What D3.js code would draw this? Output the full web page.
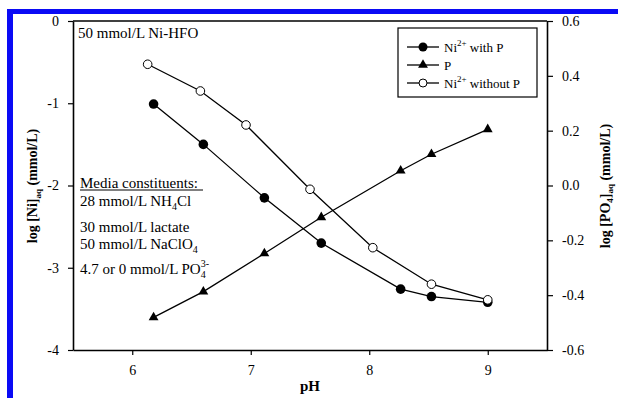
<!DOCTYPE html>
<html><head><meta charset="utf-8">
<script src="https://cdn.jsdelivr.net/npm/d3@7"></script>
<style>body{margin:0;background:#fff}svg{display:block}text{font-family:"Liberation Serif","Times New Roman",serif;fill:#000}</style>
</head><body><div id="c"></div>
<script>
const phWithP = [6.18, 6.60, 7.115, 7.595, 8.265, 8.525, 9.0];
const niWithP = [-1.01, -1.50, -2.15, -2.70, -3.26, -3.35, -3.42];
const pValues = [-0.481, -0.387, -0.248, -0.116, 0.054, 0.114, 0.205];
const phWithoutP = [6.13, 6.575, 6.96, 7.50, 8.03, 8.525, 9.0];
const niWithoutP = [-0.526, -0.851, -1.264, -2.046, -2.756, -3.20, -3.39];
const xTicks = [6, 7, 8, 9];
const yLeftTicks = [0, -1, -2, -3, -4];
const yRightTicks = [0.6, 0.4, 0.2, 0.0, -0.2, -0.4, -0.6];

const SERIF = '"Liberation Serif","Times New Roman",serif';
const W = 618, H = 398;
const svg = d3.select("#c").append("svg").attr("width", W).attr("height", H)
  .attr("font-family", SERIF);
// blue frame
svg.append("rect").attr("x", 7).attr("y", 9).attr("width", W - 7).attr("height", 5).attr("fill", "#0a0af5");
svg.append("rect").attr("x", 7).attr("y", 9).attr("width", 6).attr("height", H - 9).attr("fill", "#0a0af5");

const L = 73, R = 547, T = 21, B = 350;
const x = d3.scaleLinear().domain([5.5, 9.5]).range([L, R]);
const yL = d3.scaleLinear().domain([-4, 0]).range([B, T]);
const yR = d3.scaleLinear().domain([-0.6, 0.6]).range([B, T]);

const fs = "14px";
const gx = svg.append("g").attr("transform", `translate(0,${B})`)
  .call(d3.axisBottom(x).tickValues(xTicks).tickFormat(d3.format("d")).tickSize(5).tickPadding(10).tickSizeOuter(0));
const gyl = svg.append("g").attr("transform", `translate(${L},0)`)
  .call(d3.axisLeft(yL).tickValues(yLeftTicks).tickFormat(d => d === 0 ? "0" : d3.format("d")(d).replace("−", "-")).tickSize(5).tickPadding(9).tickSizeOuter(0));
const gyr = svg.append("g").attr("transform", `translate(${R},0)`)
  .call(d3.axisRight(yR).tickValues(yRightTicks).tickFormat(d => d3.format(".1f")(d).replace("−", "-")).tickSize(6).tickPadding(9).tickSizeOuter(0));
[gx, gyl, gyr].forEach(g => {
  g.attr("font-family", SERIF).attr("font-size", 14);
  g.selectAll("path.domain").attr("stroke", "#000").attr("stroke-width", 1.6);
  g.selectAll(".tick line").attr("stroke", "#000").attr("stroke-width", 1.2);
  g.selectAll("text").style("font-family", SERIF).style("font-size", fs).attr("fill", "#000");
});
// top border
svg.append("line").attr("x1", L).attr("x2", R).attr("y1", T).attr("y2", T).attr("stroke", "#000").attr("stroke-width", 1.4);

// lines
const lineL = (xs, ys) => d3.line().x((d, i) => x(xs[i])).y((d, i) => yL(ys[i]))(ys);
const lineR = (xs, ys) => d3.line().x((d, i) => x(xs[i])).y((d, i) => yR(ys[i]))(ys);
svg.append("path").attr("d", lineL(phWithoutP, niWithoutP)).attr("fill", "none").attr("stroke", "#000").attr("stroke-width", 1.3);
svg.append("path").attr("d", lineL(phWithP, niWithP)).attr("fill", "none").attr("stroke", "#000").attr("stroke-width", 1.3);
svg.append("path").attr("d", lineR(phWithP, pValues)).attr("fill", "none").attr("stroke", "#000").attr("stroke-width", 1.3);

const tri = d3.symbol().type(d3.symbolTriangle).size(42);
svg.selectAll(".tri").data(pValues).enter().append("path")
  .attr("transform", (d, i) => `translate(${x(phWithP[i])},${yR(d)})`).attr("d", tri).attr("fill", "#000");
svg.selectAll(".fc").data(niWithP).enter().append("circle")
  .attr("cx", (d, i) => x(phWithP[i])).attr("cy", d => yL(d)).attr("r", 4.8).attr("fill", "#000");
svg.selectAll(".oc").data(niWithoutP).enter().append("circle")
  .attr("cx", (d, i) => x(phWithoutP[i])).attr("cy", d => yL(d)).attr("r", 4.3).attr("fill", "#fff").attr("stroke", "#000").attr("stroke-width", 1);

// legend
const lg = svg.append("g");
lg.append("rect").attr("x", 398).attr("y", 28).attr("width", 139).attr("height", 69).attr("fill", "#fff").attr("stroke", "#000").attr("stroke-width", 1.2);
const legendRows = [
  {y: 47, kind: "fc", label: ["Ni", "2+", " with P"]},
  {y: 65, kind: "tri", label: ["P", "", ""]},
  {y: 83, kind: "oc", label: ["Ni", "2+", " without P"]}
];
legendRows.forEach(r => {
  lg.append("line").attr("x1", 407).attr("x2", 439).attr("y1", r.y).attr("y2", r.y).attr("stroke", "#000").attr("stroke-width", 1.3);
  if (r.kind === "fc") lg.append("circle").attr("cx", 423).attr("cy", r.y).attr("r", 4.5).attr("fill", "#000");
  if (r.kind === "oc") lg.append("circle").attr("cx", 423).attr("cy", r.y).attr("r", 4).attr("fill", "#fff").attr("stroke", "#000");
  if (r.kind === "tri") lg.append("path").attr("transform", `translate(423,${r.y})`).attr("d", tri).attr("fill", "#000");
  const t = lg.append("text").attr("x", 444).attr("y", r.y + 4.5).style("font-family", SERIF).style("font-size", "13px");
  t.append("tspan").text(r.label[0]);
  if (r.label[1]) t.append("tspan").attr("dy", -6).style("font-size", "9px").text(r.label[1]);
  if (r.label[2]) t.append("tspan").attr("dy", 6).text(r.label[2]);
});

// annotations
svg.append("text").attr("x", 78).attr("y", 38).style("font-size", "15px").text("50 mmol/L Ni-HFO");
const ann = svg.append("g").style("font-size", "15px");
ann.append("text").attr("x", 80).attr("y", 188).text("Media constituents:");
ann.append("line").attr("x1", 80).attr("x2", 203).attr("y1", 190).attr("y2", 190).attr("stroke", "#000").attr("stroke-width", 1);
const t1 = ann.append("text").attr("x", 80).attr("y", 206);
t1.append("tspan").text("28 mmol/L NH");
t1.append("tspan").attr("dy", 4).style("font-size", "10px").text("4");
t1.append("tspan").attr("dy", -4).text("Cl");
ann.append("text").attr("x", 80).attr("y", 232).text("30 mmol/L lactate");
const t2 = ann.append("text").attr("x", 80).attr("y", 249);
t2.append("tspan").text("50 mmol/L NaClO");
t2.append("tspan").attr("dy", 4).style("font-size", "10px").text("4");
const t3 = ann.append("text").attr("x", 80).attr("y", 274);
t3.append("tspan").text("4.7 or 0 mmol/L PO");
t3.append("tspan").attr("dy", 4).style("font-size", "10px").text("4");
t3.append("tspan").attr("dy", -11).attr("dx", -5).style("font-size", "10px").text("3-");

// axis titles
svg.append("text").attr("x", 310).attr("y", 391).attr("text-anchor", "middle").style("font-size", "15px").style("font-weight", "bold").text("pH");
const yl = svg.append("text").attr("transform", "translate(37,186) rotate(-90)").attr("text-anchor", "middle").style("font-size", "14px").style("font-weight", "bold");
yl.append("tspan").text("log [Ni]");
yl.append("tspan").attr("dy", 4).style("font-size", "9px").text("aq");
yl.append("tspan").attr("dy", -4).text("  (mmol/L)");
const yr = svg.append("text").attr("transform", "translate(610,186) rotate(-90)").attr("text-anchor", "middle").style("font-size", "14px").style("font-weight", "bold");
yr.append("tspan").text("log [PO");
yr.append("tspan").attr("dy", 3).style("font-size", "9px").text("4");
yr.append("tspan").attr("dy", -3).text("]");
yr.append("tspan").attr("dy", 3).style("font-size", "9px").text("aq");
yr.append("tspan").attr("dy", -3).text("  (mmol/L)");
</script></body></html>
